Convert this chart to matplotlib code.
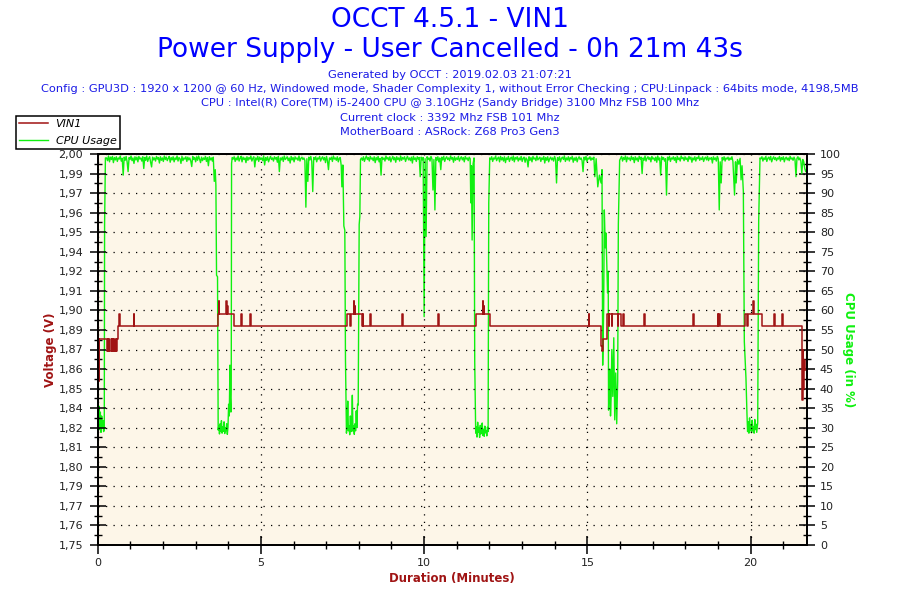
import numpy as np
import matplotlib
matplotlib.use("Agg")
import matplotlib.pyplot as plt
from matplotlib.ticker import FixedLocator, MultipleLocator

# Data
# -----------------------------------------------------------------------------

duration_end = 21.72  # 0h 21m 43s

# CPU usage (%): dips given point by point, plateaus as evenly sampled values
cpu_start_t = [0.00, 0.02, 0.04, 0.06, 0.08, 0.10, 0.12, 0.14, 0.16, 0.18, 0.20, 0.21, 0.235]
cpu_start_v = [40.5, 31.0, 35.5, 29.5, 34.0, 28.8, 33.0, 30.0, 31.8, 29.0, 29.5, 82.0, 99.0]

plateau1 = [
    99.0, 98.3, 99.5, 98.0, 99.2, 98.6, 99.4, 97.8, 99.1, 98.5,
    99.3, 98.1, 99.0, 98.7, 99.5, 98.2, 98.9, 94.6, 99.2, 98.4,
    99.4, 98.0, 95.5, 99.1, 98.6, 99.5, 98.3, 99.0, 97.6, 99.3,
    98.5, 99.2, 98.0, 99.4, 98.7, 99.0, 98.2, 99.3, 96.3, 99.1,
    98.4, 99.5, 98.1, 98.9, 99.3, 97.9, 96.7, 99.2, 98.5, 99.0,
    98.2, 99.4, 98.7, 99.1, 97.7, 99.3, 98.4, 99.0, 98.1, 99.5,
    98.6, 99.2, 98.3, 98.9, 99.4, 97.9, 99.1, 98.5, 99.3, 98.0,
    99.0, 98.6, 99.5, 98.2, 99.1, 98.8, 97.6, 99.4, 98.3, 99.0,
    98.7, 99.3, 98.1, 99.2, 98.5, 99.0, 98.2, 96.8, 99.4, 98.6,
    99.1, 98.0, 99.3, 98.4, 99.5, 98.7, 97.8, 99.2, 98.3, 99.0,
    98.6, 99.4, 98.1, 99.1, 97.0, 99.3, 98.5, 99.0, 98.2, 99.2]
dip1_t = [3.57, 3.60, 3.62, 3.64, 3.67, 3.69, 3.71, 3.73, 3.75, 3.77, 3.79, 3.81, 3.83, 3.85, 3.87,
          3.89, 3.91, 3.93, 3.95, 3.97, 3.99, 4.01, 4.03, 4.05, 4.06, 4.08, 4.09, 4.10, 4.12]
dip1_v = [93.0, 96.0, 92.0, 69.0, 68.6, 29.4, 30.5, 28.4, 31.0, 29.0, 31.8, 28.6, 30.2, 29.1, 31.5,
          28.5, 30.0, 29.2, 31.0, 28.3, 30.1, 36.0, 33.0, 46.0, 38.0, 34.0, 40.0, 97.6, 99.1]

plateau2 = [
    98.7, 99.3, 98.1, 99.0, 98.5, 99.5, 98.2, 98.9, 99.4, 98.0,
    99.2, 98.6, 99.0, 97.8, 99.3, 98.4, 99.1, 98.7, 99.5, 98.2,
    98.9, 99.3, 96.7, 99.0, 98.5, 99.4, 98.1, 99.2, 98.6, 99.0,
    98.3, 99.5, 97.2, 99.1, 98.4, 99.3, 98.0, 98.8, 99.4, 98.6,
    99.0, 98.2, 99.3, 98.7, 99.1, 97.9, 99.4, 95.5, 99.0, 98.5,
    99.2, 98.1, 99.5, 98.6, 98.9, 99.3, 98.3, 99.0, 97.7, 99.4,
    98.5, 99.1, 98.0, 99.3, 98.7, 99.0, 98.4, 99.5, 98.2, 98.9,
    99.2, 98.6, 99.0, 98.3, 86.4, 98.8, 93.0, 99.2, 98.5, 99.4,
    98.1, 90.4, 99.1, 98.6, 99.3, 98.0, 99.0, 98.7, 99.4, 98.2,
    98.9, 99.3, 98.5, 99.1, 97.8, 99.4, 98.3, 96.0, 99.0, 98.6,
    99.2, 98.1, 99.5, 98.7, 99.0, 98.4, 99.3, 98.0, 98.9, 99.1]
dip2_t = [7.46, 7.48, 7.51, 7.54, 7.57, 7.59, 7.62, 7.64, 7.66, 7.68, 7.70, 7.72, 7.74, 7.76,
          7.78, 7.80, 7.82, 7.84, 7.86, 7.88, 7.90, 7.92, 7.94, 7.96, 7.98, 8.01, 8.03, 8.05]
dip2_v = [97.0, 91.6, 97.2, 81.6, 80.5, 47.3, 28.6, 30.8, 36.8, 29.2, 30.5, 28.2, 33.0, 29.0,
          31.2, 38.3, 29.1, 30.4, 28.3, 31.0, 29.2, 34.3, 30.0, 36.0, 35.8, 82.0, 84.0, 98.6]

plateau3 = [
    99.0, 98.4, 99.3, 98.1, 98.9, 99.5, 98.6, 99.1, 98.2, 99.4,
    98.7, 99.0, 98.3, 99.3, 97.8, 99.1, 98.5, 99.4, 98.0, 98.9,
    94.6, 99.2, 98.6, 99.0, 98.2, 99.5, 98.7, 99.1, 98.4, 99.3,
    98.0, 98.8, 99.4, 98.5, 99.1, 97.9, 99.3, 98.6, 99.0, 98.2,
    99.5, 98.4, 99.1, 98.7, 99.3, 98.1, 98.9, 99.4, 98.5, 99.0,
    98.3, 99.2, 97.7, 99.4, 98.6, 99.0, 98.1, 99.3, 98.7, 99.1,
    94.2, 99.2, 98.5, 99.1, 58.4, 98.8, 78.9, 99.3, 98.6, 99.0,
    98.2, 99.4, 98.7, 90.8, 98.6, 85.7, 99.1, 98.4, 99.3, 98.0,
    99.0, 96.0, 99.2, 98.5, 99.4, 98.1, 98.9, 99.3, 98.6, 99.0,
    98.3, 99.5, 98.7, 99.1, 97.9, 99.3, 98.4, 99.0, 98.6, 99.4,
    98.2, 98.9, 99.3, 98.5, 99.1, 98.0, 99.4, 98.7, 99.0, 98.3,
    99.2, 98.8]
dip3_t = [11.43, 11.45, 11.47, 11.50, 11.53, 11.55, 11.58, 11.60, 11.62, 11.64, 11.66, 11.68, 11.70, 11.72,
          11.74, 11.76, 11.78, 11.80, 11.82, 11.84, 11.86, 11.88, 11.90, 11.92, 11.94, 11.96, 11.98, 12.01]
dip3_v = [87.5, 97.0, 78.0, 97.5, 99.0, 46.9, 28.6, 30.2, 27.6, 31.4, 28.8, 29.9, 27.5, 30.6,
          28.4, 29.5, 31.2, 28.0, 29.6, 27.8, 30.4, 28.7, 29.3, 27.9, 30.1, 29.0, 87.5, 99.0]

plateau4 = [
    98.6, 99.3, 98.1, 99.0, 98.7, 99.5, 98.3, 98.9, 99.2, 98.0,
    99.4, 98.5, 99.1, 98.2, 99.3, 97.8, 99.0, 98.6, 99.4, 98.1,
    98.9, 99.2, 98.4, 99.5, 98.0, 99.1, 98.7, 99.3, 98.2, 99.0,
    98.5, 99.4, 98.1, 98.9, 99.2, 97.9, 99.0, 98.6, 96.7, 99.3,
    98.4, 99.1, 98.0, 99.4, 98.7, 99.0, 98.3, 99.5, 98.5, 98.9,
    99.2, 98.1, 99.0, 98.6, 99.4, 97.7, 99.1, 98.4, 99.3, 98.0,
    98.8, 99.2, 98.5, 99.0, 98.2, 99.4, 98.7, 92.6, 99.1, 98.4,
    99.3, 98.0, 98.9, 99.2, 98.6, 99.5, 98.1, 99.0, 98.5, 99.3,
    98.2, 99.1, 98.7, 99.4, 97.9, 99.0, 98.4, 99.2, 98.0, 98.9,
    99.3, 98.6, 99.0, 98.3, 95.5, 99.2, 98.5, 99.4, 98.1, 99.0,
    98.7, 99.3, 98.4, 99.0, 98.6, 99.2]
dip4_t = [15.23, 15.27, 15.32, 15.37, 15.42, 15.45, 15.47, 15.50, 15.52, 15.55, 15.57, 15.59, 15.62, 15.64,
          15.65, 15.67, 15.69, 15.71, 15.73, 15.75, 15.78, 15.81, 15.84, 15.87, 15.90, 15.93, 15.95, 15.99]
dip4_v = [94.2, 98.8, 91.6, 94.6, 92.6, 96.0, 46.0, 60.0, 85.7, 76.0, 79.8, 73.7, 64.5, 70.0,
          34.5, 41.0, 45.0, 33.0, 38.0, 50.0, 38.0, 53.0, 32.0, 44.0, 31.0, 42.0, 82.0, 98.4]

plateau5 = [
    98.9, 99.4, 98.2, 99.1, 98.6, 99.5, 98.0, 99.2, 98.7, 99.0,
    98.3, 99.4, 98.6, 99.1, 97.8, 99.3, 98.5, 99.0, 98.1, 99.4,
    98.7, 99.2, 95.0, 99.0, 98.4, 99.5, 98.2, 98.9, 99.3, 98.6,
    99.1, 98.0, 99.4, 98.7, 99.0, 98.3, 99.2, 97.9, 99.5, 98.5,
    99.0, 94.6, 99.3, 98.6, 99.1, 98.2, 98.8, 89.5, 99.2, 98.5,
    99.4, 98.1, 99.0, 98.7, 99.3, 98.4, 99.1, 97.8, 99.4, 98.6,
    99.0, 98.2, 99.5, 98.8, 99.1, 98.3, 99.3, 98.6, 99.0, 98.1,
    99.4, 98.7, 99.2, 97.9, 99.0, 98.5, 99.3, 98.2, 99.1, 98.8,
    99.5, 98.4, 99.0, 98.6, 99.3, 98.1, 98.9, 99.2, 98.5, 99.4,
    98.3, 99.0, 98.7, 99.1, 97.7, 99.3, 98.6, 99.0, 98.2, 99.4,
    98.8, 85.7, 98.0, 92.6, 99.1, 98.5, 99.3, 98.2, 99.0, 98.7,
    99.2, 98.4, 99.0, 98.6, 99.3, 98.1]
dip5_t = [19.51, 19.54, 19.56, 19.60, 19.64, 19.68, 19.71, 19.74, 19.78, 19.81, 19.86, 19.89, 19.91, 19.93, 19.95,
          19.97, 19.99, 20.01, 20.03, 20.05, 20.07, 20.09, 20.11, 20.13, 20.15, 20.17, 20.19, 20.22, 20.25, 20.29]
dip5_v = [89.5, 98.0, 92.6, 98.6, 97.4, 98.9, 93.4, 97.0, 90.4, 52.0, 42.7, 33.7, 29.0, 31.5, 28.6,
          32.5, 29.4, 30.8, 28.7, 31.9, 29.2, 30.3, 28.6, 32.1, 29.5, 30.9, 28.8, 31.2, 83.0, 99.0]

plateau6 = [
    98.8, 99.3, 98.2, 99.0, 98.6, 99.4, 98.1, 98.9, 99.2, 98.5,
    99.4, 98.0, 98.8, 99.3, 98.6, 99.1, 98.3, 99.0, 98.7, 99.4,
    98.2, 99.1, 98.6, 99.3, 98.0, 98.9, 99.2, 98.5, 99.0, 98.3,
    99.4, 98.7, 99.0, 98.4, 99.2, 98.6, 94.2, 98.9, 99.3, 98.5,
    99.0, 98.2, 95.0, 98.6, 98.0, 96.3, 95.5, 96.2]

# plateau spans (start, end) in minutes
plateau_spans = [(0.27, 3.54), (4.15, 7.43), (8.08, 11.41), (12.04, 15.20), (16.02, 19.46), (20.32, 21.72)]

# VIN1 (V), step changes: time of change and new level
volt_t = [0.00, 0.01, 0.03, 0.05, 0.28, 0.30, 0.31, 0.34, 0.35, 0.40,
          0.43, 0.45, 0.46, 0.50, 0.51, 0.55, 0.56, 0.60, 0.63, 0.655,
          0.675, 1.10, 1.125,
          3.69, 3.70, 3.715, 3.94, 3.955, 3.97, 3.985, 4.18, 4.40, 4.42, 4.67, 4.69,
          7.64, 7.74, 7.76, 7.84, 7.855, 7.87, 7.885, 8.10, 8.12, 8.13, 8.35, 8.37,
          9.33, 9.35, 10.44, 10.46,
          11.58, 11.79, 11.805, 11.82, 11.835, 12.03, 15.04, 15.06,
          15.43, 15.45, 15.47, 15.61, 15.66, 15.67, 15.75, 15.77, 15.93, 15.94,
          16.04, 16.10, 16.12,
          16.75, 16.77, 18.25, 18.27, 18.99, 19.01, 19.03, 19.05,
          19.83, 19.90, 19.92, 20.09, 20.11, 20.35, 20.73, 20.75, 20.96, 20.99,
          21.58, 21.60, 21.62, 21.64, 21.66, 21.72]
volt_v = [1.890, 1.882, 1.855, 1.882, 1.874, 1.882, 1.874, 1.882, 1.874, 1.882,
          1.874, 1.882, 1.874, 1.882, 1.874, 1.882, 1.874, 1.882, 1.890, 1.898,
          1.890, 1.898, 1.890,
          1.898, 1.906, 1.898, 1.906, 1.898, 1.903, 1.898, 1.890, 1.898, 1.890, 1.898, 1.890,
          1.898, 1.890, 1.898, 1.906, 1.898, 1.903, 1.898, 1.890, 1.898, 1.890, 1.898, 1.890,
          1.898, 1.890, 1.898, 1.890,
          1.898, 1.906, 1.898, 1.903, 1.898, 1.890, 1.898, 1.890,
          1.877, 1.874, 1.882, 1.898, 1.890, 1.898, 1.890, 1.898, 1.890, 1.898,
          1.890, 1.898, 1.890,
          1.898, 1.890, 1.898, 1.890, 1.898, 1.890, 1.898, 1.890,
          1.898, 1.890, 1.898, 1.906, 1.898, 1.890, 1.898, 1.890, 1.898, 1.890,
          1.843, 1.875, 1.850, 1.868, 1.862, 1.862]

volt_labels = ["1,75", "1,76", "1,77", "1,79", "1,80", "1,81", "1,82", "1,84", "1,85", "1,86", "1,87",
               "1,89", "1,90", "1,91", "1,92", "1,94", "1,95", "1,96", "1,97", "1,99", "2,00"]

title_1 = "OCCT 4.5.1 - VIN1"
title_2 = "Power Supply - User Cancelled - 0h 21m 43s"
info_lines = [
    "Generated by OCCT : 2019.02.03 21:07:21",
    "Config : GPU3D : 1920 x 1200 @ 60 Hz, Windowed mode, Shader Complexity 1, without Error Checking ; "
    "CPU:Linpack : 64bits mode, 4198,5MB",
    "CPU : Intel(R) Core(TM) i5-2400 CPU @ 3.10GHz (Sandy Bridge) 3100 Mhz FSB 100 Mhz",
    "Current clock : 3392 Mhz FSB 101 Mhz",
    "MotherBoard : ASRock: Z68 Pro3 Gen3",
]

# Assemble the CPU trace
# -----------------------------------------------------------------------------

plateaus = [plateau1, plateau2, plateau3, plateau4, plateau5, plateau6]
dips = [(dip1_t, dip1_v), (dip2_t, dip2_v), (dip3_t, dip3_v), (dip4_t, dip4_v), (dip5_t, dip5_v)]

cpu_t = list(cpu_start_t)
cpu_v = list(cpu_start_v)
for i, vals in enumerate(plateaus):
    t0, t1 = plateau_spans[i]
    cpu_t += list(np.linspace(t0, t1, len(vals)))
    cpu_v += vals
    if i < len(dips):
        cpu_t += dips[i][0]
        cpu_v += dips[i][1]

# Plot
# -----------------------------------------------------------------------------

red = "#a01414"
green = "#10f010"
blue = "#0000ff"
cream = "#fdf6e8"

fig = plt.figure(figsize=(9, 6), dpi=100)
ax = fig.add_axes([0.1086, 0.0917, 0.7877, 0.6516])
ax2 = ax.twinx()

ax2.patch.set_visible(True)
ax2.set_facecolor(cream)
ax.patch.set_visible(False)
ax.set_zorder(2)
ax2.set_zorder(1)

line_c, = ax2.plot(cpu_t, cpu_v, color=green, lw=1.0)
line_v, = ax.plot(volt_t, volt_v, color=red, lw=1.1, drawstyle="steps-post")

ax.set_xlim(0, duration_end)
ax.set_ylim(1.75, 2.00)
ax2.set_ylim(0, 100)

ax.yaxis.set_major_locator(FixedLocator(np.linspace(1.75, 2.00, len(volt_labels))))
ax.set_yticklabels(volt_labels)
ax.yaxis.set_minor_locator(FixedLocator(np.linspace(1.75, 2.00, 2 * len(volt_labels) - 1)))
ax.xaxis.set_major_locator(MultipleLocator(5))
ax.xaxis.set_minor_locator(MultipleLocator(1))
ax2.yaxis.set_major_locator(MultipleLocator(5))
ax2.yaxis.set_minor_locator(MultipleLocator(2.5))

for a in (ax, ax2):
    a.tick_params(which="major", direction="inout", length=12, width=1.1, labelsize=8,
                  labelcolor="#222222", pad=4.5)
    a.tick_params(which="minor", direction="inout", length=6, width=1.0)
    for s in a.spines.values():
        s.set_linewidth(1.3)
ax2.tick_params(which="major", pad=3.5)
ax.tick_params(axis="x", which="major", length=13, pad=3)

ax.grid(True, which="major", color="black", linestyle=(0, (1, 5)), linewidth=0.9)

ax.set_ylabel("Voltage (V)", color=red, fontsize=8.5, fontweight="bold", labelpad=1)
ax2.set_ylabel("CPU Usage (in %)", color=green, fontsize=8.5, fontweight="bold",
               rotation=270, labelpad=10)
ax.set_xlabel("Duration (Minutes)", color=red, fontsize=8.5, fontweight="bold", labelpad=3)

fig.text(0.5, 1 - 20 / 600, title_1, ha="center", va="center", fontsize=19, color=blue)
fig.text(0.5, 1 - 50 / 600, title_2, ha="center", va="center", fontsize=19, color=blue)
for i, txt in enumerate(info_lines):
    fig.text(0.5, 1 - (75 + 14.2 * i) / 600, txt, ha="center", va="center", fontsize=8.2, color="#1a1ae6")

leg = fig.legend([line_v, line_c], ["VIN1", "CPU Usage"], loc="upper left",
                 bbox_to_anchor=(15.5 / 900, 1 - 115.5 / 600), borderaxespad=0,
                 prop={"style": "italic", "size": 8}, fancybox=False, edgecolor="black",
                 framealpha=1, handlelength=2.6, handletextpad=0.7, borderpad=0.3,
                 labelspacing=0.65)
leg.get_frame().set_linewidth(1.1)

fig.savefig("out.png", dpi=100)
